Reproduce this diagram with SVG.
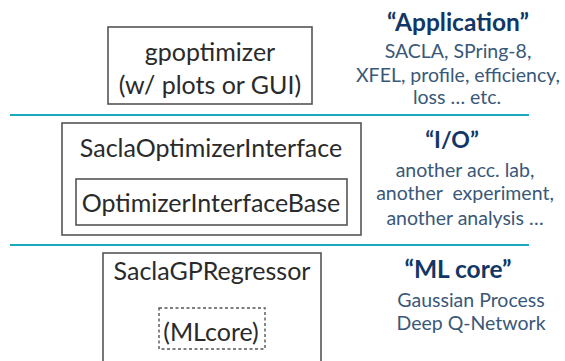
<svg xmlns="http://www.w3.org/2000/svg" width="565" height="361" viewBox="0 0 565 361">
<style>
.box{fill:#fff;stroke:#555;stroke-width:1.6}
.dash{fill:none;stroke:#555;stroke-width:1.4;stroke-dasharray:3 2.5}
.sep{stroke:#1aaabf;stroke-width:2}
.bt{font-family:Lato,"Noto Sans",sans-serif;font-size:25px;fill:#2a2a2a;text-anchor:middle}
.ht{font-family:Lato,"Noto Sans",sans-serif;font-size:24.5px;font-weight:bold;fill:#123766;text-anchor:middle}
.st{font-family:Lato,"Noto Sans",sans-serif;font-size:19.5px;fill:#3a5878;text-anchor:middle}
</style>
<rect width="565" height="361" fill="#fff"/>
<g id="separators">
<line class="sep" x1="10" y1="115" x2="529" y2="115"/>
<line class="sep" x1="10" y1="245" x2="529" y2="245"/>
</g>
<g id="gpoptimizer">
<rect class="box" x="108" y="27" width="204" height="77"/>
<text class="bt" x="210" y="61">gpoptimizer</text>
<text class="bt" x="210" y="94">(w/ plots or GUI)</text>
</g>
<g id="SaclaOptimizerInterface">
<rect class="box" x="62" y="123" width="299" height="112"/>
<text class="bt" x="211" y="157">SaclaOptimizerInterface</text>
</g>
<g id="OptimizerInterfaceBase">
<rect class="box" x="76" y="179" width="271" height="46"/>
<text class="bt" x="211" y="212">OptimizerInterfaceBase</text>
</g>
<g id="SaclaGPRegressor">
<rect class="box" x="103" y="253" width="218" height="120"/>
<text class="bt" x="212" y="280">SaclaGPRegressor</text>
</g>
<g id="MLcore">
<rect class="dash" x="159" y="308" width="106" height="41"/>
<text class="bt" x="211" y="341">(MLcore)</text>
</g>
<g id="application-label">
<text class="ht" x="458" y="31">“Application”</text>
<text class="st" x="458" y="58">SACLA, SPring-8,</text>
<text class="st" x="458" y="82">XFEL, profile, efficiency,</text>
<text class="st" x="457" y="104">loss … etc.</text>
</g>
<g id="io-label">
<text class="ht" x="452" y="148" style="font-size:23px">“I/O”</text>
<text class="st" x="465" y="177">another acc. lab,</text>
<text class="st" x="465" y="200" xml:space="preserve">another  experiment,</text>
<text class="st" x="465" y="225">another analysis …</text>
</g>
<g id="mlcore-label">
<text class="ht" x="458" y="278">“ML core”</text>
<text class="st" x="471" y="307">Gaussian Process</text>
<text class="st" x="471" y="330">Deep Q-Network</text>
</g>
</svg>
